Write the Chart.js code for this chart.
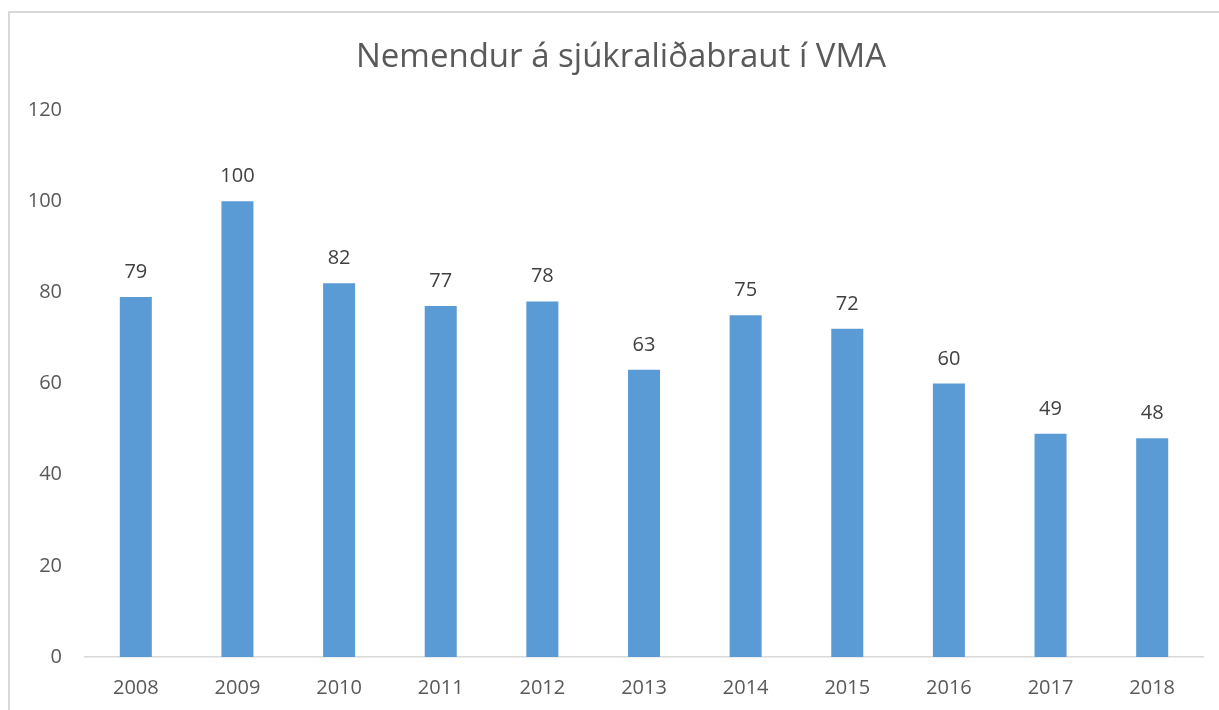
<!DOCTYPE html>
<html>
<head>
<meta charset="utf-8">
<script src="https://cdn.jsdelivr.net/npm/chart.js@4/dist/chart.umd.min.js"></script>
<style>
  html, body { margin: 0; padding: 0; background: #fff; overflow: hidden; }
  #frame {
    position: absolute; left: 8px; top: 11px;
    width: 1240px; height: 720px;
    border: 2px solid #d9d9d9; box-sizing: border-box;
  }
  #wrap { position: absolute; left: 0; top: 0; width: 1219px; height: 710px; }
</style>
</head>
<body>
<div id="frame"></div>
<div id="wrap"><canvas id="barChart" width="1219" height="710"></canvas></div>
<script>
const years = ["2008", "2009", "2010", "2011", "2012", "2013", "2014", "2015", "2016", "2017", "2018"];
const students = [79, 100, 82, 77, 78, 63, 75, 72, 60, 49, 48];
const yTicks = [0, 20, 40, 60, 80, 100, 120];
const chartTitle = "Nemendur á sjúkraliðabraut í VMA";

const fontFamily = "'Open Sans', 'Noto Sans', sans-serif";

// title centred over the whole frame, not just the plot
const frameTitle = {
    id: 'frameTitle',
    afterDraw(chart) {
        const ctx = chart.ctx;
        ctx.save();
        ctx.font = "33px " + fontFamily;
        ctx.fillStyle = "#595959";
        ctx.textAlign = "center";
        ctx.textBaseline = "alphabetic";
        ctx.fillText(chartTitle, 621, 67);
        ctx.restore();
    }
};

// value labels above each bar
const valueLabels = {
    id: 'valueLabels',
    afterDatasetsDraw(chart) {
        const ctx = chart.ctx;
        const meta = chart.getDatasetMeta(0);
        ctx.save();
        ctx.font = "20px " + fontFamily;
        ctx.fillStyle = "#404040";
        ctx.textAlign = "center";
        ctx.textBaseline = "alphabetic";
        meta.data.forEach((bar, i) => {
            ctx.fillText(String(chart.data.datasets[0].data[i]), bar.x, bar.y - 19);
        });
        ctx.restore();
    }
};

let barData = {
    labels: years,
    datasets: [{
        label: "Nemendur",
        backgroundColor: "#5b9bd5",
        borderWidth: 0,
        data: students,
        barPercentage: 0.315,
        categoryPercentage: 1
    }]
};

let barOptions = {
    responsive: false,
    animation: false,
    layout: { padding: { left: 15, right: 16, top: 110, bottom: 0 } },
    plugins: {
        legend: { display: false },
        tooltip: { enabled: false },
        title: { display: false }
    },
    scales: {
        x: {
            grid: { display: false, drawTicks: false },
            border: { display: true, color: "#d9d9d9", width: 1.5 },
            ticks: { color: "#595959", font: { family: fontFamily, size: 20 }, padding: 19 },
            afterFit(scale) { scale.height = 53; }
        },
        y: {
            min: 0,
            max: 120,
            afterBuildTicks(scale) { scale.ticks = yTicks.map(v => ({ value: v })); },
            grid: { display: false, drawTicks: false },
            border: { display: false },
            ticks: { color: "#595959", font: { family: fontFamily, size: 20 }, padding: 23 },
            afterFit(scale) { scale.width = 70; }
        }
    }
};

let ctx = document.getElementById("barChart").getContext("2d");
new Chart(ctx, { type: 'bar', data: barData, options: barOptions, plugins: [valueLabels, frameTitle] });
</script>
</body>
</html>
